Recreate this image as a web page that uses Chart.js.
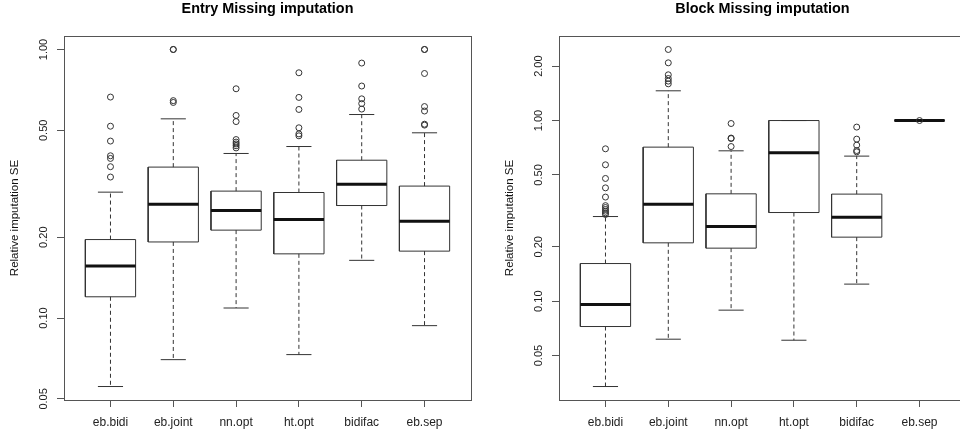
<!DOCTYPE html>
<html>
<head>
<meta charset="utf-8">
<script src="https://cdn.jsdelivr.net/npm/chart.js@4.4.1/dist/chart.umd.min.js"></script>
<style>
  html, body { margin: 0; padding: 0; background: #fff; width: 960px; height: 435px; overflow: hidden; position: relative; }
  canvas { position: absolute; top: 0; }
  #entry { left: 0; }
  #block { left: 495px; }
</style>
</head>
<body>
<canvas id="entry" width="480" height="435"></canvas>
<canvas id="block" width="480" height="435"></canvas>
<script>
const categories = ['eb.bidi', 'eb.joint', 'nn.opt', 'ht.opt', 'bidifac', 'eb.sep'];

// Entry missing panel
const entryLower  = [0.0556, 0.070, 0.109, 0.0731, 0.164, 0.0937];
const entryQ1     = [0.120, 0.192, 0.2125, 0.1734, 0.2624, 0.1775];
const entryMedian = [0.1564, 0.2655, 0.2514, 0.2326, 0.315, 0.2295];
const entryQ3     = [0.196, 0.3648, 0.2969, 0.2934, 0.387, 0.310];
const entryUpper  = [0.2943, 0.5518, 0.410, 0.4352, 0.5726, 0.4895];
const entryOutliers = [
  [0.665, 0.518, 0.456, 0.402, 0.393, 0.366, 0.335],
  [1.0, 1.0, 0.645, 0.635],
  [0.714, 0.568, 0.539, 0.462, 0.452, 0.445, 0.438, 0.43],
  [0.819, 0.663, 0.598, 0.511, 0.485, 0.477],
  [0.89, 0.731, 0.655, 0.629, 0.60],
  [1.0, 1.0, 0.814, 0.613, 0.59, 0.527, 0.523]
];
const entryTicks = [0.05, 0.1, 0.2, 0.5, 1];
const entryTickLabels = ['0.05', '0.10', '0.20', '0.50', '1.00'];

// Block missing panel
const blockLower  = [0.0337, 0.0616, 0.0892, 0.0608, 0.1243, 1.0];
const blockQ1     = [0.0724, 0.2104, 0.1966, 0.3096, 0.2262, 1.0];
const blockMedian = [0.0958, 0.3446, 0.259, 0.6631, 0.2919, 1.0];
const blockQ3     = [0.1616, 0.7126, 0.3929, 1.0, 0.3915, 1.0];
const blockUpper  = [0.2942, 1.461, 0.6798, 1.0, 0.6354, 1.0];
const blockOutliers = [
  [0.6975, 0.569, 0.478, 0.424, 0.377, 0.338, 0.33, 0.322, 0.315, 0.308, 0.302],
  [2.474, 2.087, 1.792, 1.709, 1.653, 1.597],
  [0.963, 0.80, 0.795, 0.718],
  [],
  [0.92, 0.789, 0.731, 0.6825, 0.671],
  [1.0]
];
const blockTicks = [0.05, 0.1, 0.2, 0.5, 1, 2];
const blockTickLabels = ['0.05', '0.10', '0.20', '0.50', '1.00', '2.00'];

const FONT = "'Liberation Sans', Arial, sans-serif";
const LINE = '#333';
const AXIS = '#555';

function boxChart(id, title, lower, q1, med, q3, upper, outliers, tickVals, tickLabels) {
  const boxes = [], medians = [], whiskers = [], caps = [], points = [];
  categories.forEach((c, i) => {
    const x = i + 1;
    boxes.push({x: x - 0.4, y: q1[i]}, {x: x + 0.4, y: q1[i]}, {x: x + 0.4, y: q3[i]},
               {x: x - 0.4, y: q3[i]}, {x: x - 0.4, y: q1[i]}, {x: x, y: null});
    medians.push({x: x - 0.4, y: med[i]}, {x: x + 0.4, y: med[i]}, {x: x, y: null});
    whiskers.push({x: x, y: q3[i]}, {x: x, y: upper[i]}, {x: x, y: null},
                  {x: x, y: q1[i]}, {x: x, y: lower[i]}, {x: x, y: null});
    caps.push({x: x - 0.2, y: upper[i]}, {x: x + 0.2, y: upper[i]}, {x: x, y: null},
              {x: x - 0.2, y: lower[i]}, {x: x + 0.2, y: lower[i]}, {x: x, y: null});
    outliers[i].forEach(v => points.push({x: x, y: v}));
  });

  // R style axis limits: data range extended by 4% on the log scale
  const all = lower.concat(upper, ...outliers);
  const lo = Math.log10(Math.min(...all)), hi = Math.log10(Math.max(...all));
  const ext = (hi - lo) * 0.04;

  const lineDs = (data, opts) => Object.assign({
    type: 'line', data, showLine: true, pointRadius: 0, borderColor: LINE,
    borderWidth: 1, spanGaps: false, tension: 0, fill: false
  }, opts);

  new Chart(document.getElementById(id), {
    type: 'line',
    data: {
      datasets: [
        { type: 'scatter', data: points, showLine: false, pointRadius: 3, pointBorderWidth: 1,
          pointBorderColor: LINE, pointBackgroundColor: 'rgba(0,0,0,0)' },
        lineDs(medians, { borderWidth: 3, borderColor: '#111', borderCapStyle: 'butt' }),
        lineDs(caps),
        lineDs(whiskers, { borderDash: [4, 3] }),
        lineDs(boxes)
      ]
    },
    options: {
      responsive: false,
      animation: false,
      devicePixelRatio: 1,
      events: [],
      layout: { padding: { left: 0, right: 9, top: 0, bottom: 0 } },
      plugins: { legend: { display: false }, tooltip: { enabled: false } },
      scales: {
        x: {
          type: 'linear', position: 'bottom', min: 0.26, max: 6.74,
          afterBuildTicks: s => { s.ticks = categories.map((c, i) => ({ value: i + 1 })); },
          afterFit: s => { s.height = 35; },
          border: { color: AXIS },
          grid: { drawOnChartArea: false, tickLength: 7, color: AXIS },
          ticks: { autoSkip: false, maxRotation: 0, padding: 8, color: '#222',
                   font: { family: FONT, size: 12 }, callback: (v, i) => categories[i] }
        },
        top: {
          type: 'linear', position: 'top', min: 0, max: 1,
          afterFit: s => { s.height = 36; },
          border: { color: AXIS },
          grid: { display: false, drawTicks: false },
          ticks: { display: false },
          title: { display: true, text: title, color: '#000',
                   font: { family: FONT, size: 14.4, weight: 'bold' },
                   padding: { top: 0, bottom: 18 } }
        },
        y: {
          type: 'logarithmic', position: 'left',
          min: Math.pow(10, lo - ext), max: Math.pow(10, hi + ext),
          afterBuildTicks: s => { s.ticks = tickVals.map(v => ({ value: v })); },
          afterFit: s => { s.width = 64; },
          border: { color: AXIS },
          grid: { drawOnChartArea: false, tickLength: 7, color: AXIS },
          ticks: { minRotation: 90, maxRotation: 90, crossAlign: 'center', padding: 2,
                   color: '#222', font: { family: FONT, size: 11 },
                   callback: (v, i) => tickLabels[i] },
          title: { display: true, text: 'Relative imputation SE', color: '#111',
                   font: { family: FONT, size: 11.5 }, padding: { top: 8, bottom: 0 } }
        },
        right: {
          type: 'linear', position: 'right', min: 0, max: 1,
          afterFit: s => { s.width = 0; },
          border: { color: AXIS },
          grid: { display: false, drawTicks: false },
          ticks: { display: false }
        }
      }
    }
  });
}

boxChart('entry', 'Entry Missing imputation', entryLower, entryQ1, entryMedian, entryQ3,
         entryUpper, entryOutliers, entryTicks, entryTickLabels);
boxChart('block', 'Block Missing imputation', blockLower, blockQ1, blockMedian, blockQ3,
         blockUpper, blockOutliers, blockTicks, blockTickLabels);
</script>
</body>
</html>
